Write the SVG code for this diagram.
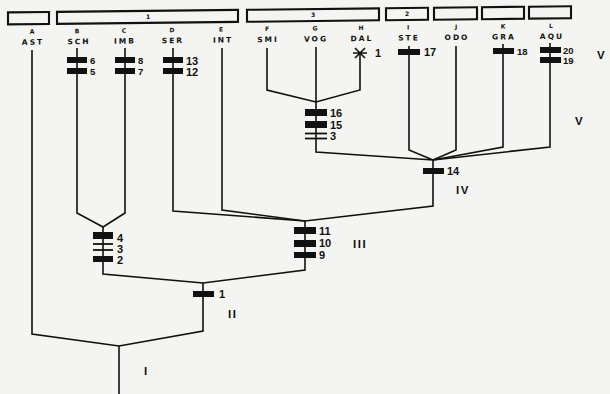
<svg xmlns="http://www.w3.org/2000/svg" width="610" height="394" viewBox="0 0 610 394">
<style>
.bg{fill:#f4f4f2}
.box{fill:none;stroke:#111;stroke-width:2.1}
.ln{fill:none;stroke:#111;stroke-width:1.6;stroke-linejoin:miter}
.bar{fill:#111}
.thin{stroke:#111;stroke-width:1.8}
.let{font-family:"DejaVu Sans","Liberation Sans",sans-serif;font-weight:bold;font-size:6px;fill:#111;text-anchor:middle}
.nm{font-family:"DejaVu Sans","Liberation Sans",sans-serif;font-weight:bold;font-size:7.5px;letter-spacing:2px;fill:#111;text-anchor:middle}
.num{font-family:"Liberation Sans",Arial,sans-serif;font-weight:bold;font-size:11px;fill:#111}
.sm{font-size:9.5px}
.rom{font-family:"Liberation Sans",Arial,sans-serif;font-weight:bold;font-size:11.5px;letter-spacing:1.5px;fill:#111}
.bl{font-family:"DejaVu Sans",sans-serif;font-weight:bold;font-size:6px;fill:#111;text-anchor:middle}
</style>
<rect class="bg" x="0" y="0" width="610" height="394"/>

<g id="header" transform="skewY(-0.63)">
  <g id="group-A"><rect class="box" x="8" y="12.5" width="41" height="12"/></g>
  <g id="group-1"><rect class="box" x="57" y="12.5" width="181" height="12"/><text class="bl" x="148" y="20.5">1</text></g>
  <g id="group-3"><rect class="box" x="247" y="12.5" width="132" height="12"/><text class="bl" x="313" y="20.5">3</text></g>
  <g id="group-2"><rect class="box" x="386" y="12.5" width="42" height="12"/><text class="bl" x="407" y="20.5">2</text></g>
  <g id="group-J"><rect class="box" x="434" y="12.5" width="43" height="12"/></g>
  <g id="group-K"><rect class="box" x="482" y="12.5" width="42" height="12"/></g>
  <g id="group-L"><rect class="box" x="529" y="12.5" width="42" height="12"/></g>

  <g id="taxon-A"><text class="let" x="32" y="34">A</text><text class="nm" x="33" y="45">AST</text></g>
  <g id="taxon-B"><text class="let" x="77" y="34">B</text><text class="nm" x="79" y="45">SCH</text></g>
  <g id="taxon-C"><text class="let" x="124" y="34">C</text><text class="nm" x="125" y="45">IMB</text></g>
  <g id="taxon-D"><text class="let" x="172" y="34">D</text><text class="nm" x="173" y="45">SER</text></g>
  <g id="taxon-E"><text class="let" x="221" y="34">E</text><text class="nm" x="223" y="45">INT</text></g>
  <g id="taxon-F"><text class="let" x="267" y="34">F</text><text class="nm" x="268" y="45">SMI</text></g>
  <g id="taxon-G"><text class="let" x="315" y="34">G</text><text class="nm" x="316" y="45">VOG</text></g>
  <g id="taxon-H"><text class="let" x="361" y="34">H</text><text class="nm" x="362" y="45">DAL</text></g>
  <g id="taxon-I"><text class="let" x="408" y="34">I</text><text class="nm" x="409" y="45">STE</text></g>
  <g id="taxon-J"><text class="let" x="456" y="34">J</text><text class="nm" x="457" y="45">ODO</text></g>
  <g id="taxon-K"><text class="let" x="503" y="34">K</text><text class="nm" x="504" y="45">GRA</text></g>
  <g id="taxon-L"><text class="let" x="551" y="34">L</text><text class="nm" x="552" y="45">AQU</text></g>
</g>

<g id="connectors">
  <polyline class="ln" points="32,50 32,334 119,346 203,331 203,283"/>
  <polyline class="ln" points="119,346 119,394"/>
  <polyline class="ln" points="77,48 77,213 103,227 125,213 125,48"/>
  <polyline class="ln" points="103,227 103,274 203,283 305,270 305,221"/>
  <polyline class="ln" points="173,48 173,211 305,221 433,206 433,160"/>
  <polyline class="ln" points="222,48 222,210 305,221"/>
  <polyline class="ln" points="267,48 267,90 316,102 360,90 360,53"/>
  <polyline class="ln" points="316,47 316,152 433,160 409,150 409,46"/>
  <polyline class="ln" points="433,160 456,150 456,46"/>
  <polyline class="ln" points="433,160 503,147 503,44"/>
  <polyline class="ln" points="433,160 550,147 550,43"/>
</g>

<g id="characters">
  <g id="chars-SCH"><rect class="bar" x="67" y="57" width="20" height="6"/><rect class="bar" x="67" y="68" width="20" height="6"/>
    <text class="num sm" x="90" y="64">6</text><text class="num sm" x="90" y="75">5</text></g>
  <g id="chars-IMB"><rect class="bar" x="115" y="57" width="20" height="6"/><rect class="bar" x="115" y="68" width="20" height="6"/>
    <text class="num sm" x="138" y="64">8</text><text class="num sm" x="138" y="75">7</text></g>
  <g id="chars-SER"><rect class="bar" x="163" y="57" width="20" height="6"/><rect class="bar" x="163" y="68" width="20" height="6"/>
    <text class="num" x="186" y="64.5">13</text><text class="num" x="186" y="75.5">12</text></g>
  <g id="chars-DAL"><path class="ln" d="M353,53 H367 M355,48 L365,58 M355,58 L365,48"/>
    <text class="num" x="375" y="57">1</text></g>
  <g id="chars-STE"><rect class="bar" x="398" y="49" width="22" height="6"/><text class="num" x="424" y="56">17</text></g>
  <g id="chars-GRA"><rect class="bar" x="493" y="48" width="21" height="6"/><text class="num sm" x="517" y="54.5">18</text></g>
  <g id="chars-AQU"><rect class="bar" x="540" y="47" width="21" height="6"/><rect class="bar" x="540" y="57" width="21" height="6"/>
    <text class="num sm" x="563" y="53.5">20</text><text class="num sm" x="563" y="63.5">19</text></g>

  <g id="node-2-4"><rect class="bar" x="93" y="232" width="20" height="7"/>
    <line class="thin" x1="93" y1="244" x2="113" y2="244"/><line class="thin" x1="93" y1="250" x2="113" y2="250"/>
    <rect class="bar" x="93" y="256" width="20" height="6"/>
    <text class="num" x="117" y="241.5">4</text><text class="num" x="117" y="252.5">3</text><text class="num" x="117" y="263.5">2</text></g>
  <g id="node-VOG"><rect class="bar" x="305" y="109" width="22" height="7"/><rect class="bar" x="305" y="121" width="22" height="7"/>
    <line class="thin" x1="305" y1="133.5" x2="327" y2="133.5"/><line class="thin" x1="305" y1="138.5" x2="327" y2="138.5"/>
    <text class="num" x="330" y="117">16</text><text class="num" x="330" y="129">15</text><text class="num" x="330" y="140">3</text></g>
  <g id="node-III"><rect class="bar" x="294" y="227" width="22" height="7"/><rect class="bar" x="294" y="240" width="22" height="7"/><rect class="bar" x="294" y="252" width="22" height="6"/>
    <text class="num" x="319" y="235">11</text><text class="num" x="319" y="247">10</text><text class="num" x="319" y="259">9</text>
    <text class="rom" x="353" y="248">III</text></g>
  <g id="node-II"><rect class="bar" x="193" y="291" width="21" height="6"/><text class="num" x="219" y="298">1</text>
    <text class="rom" x="228" y="318">II</text></g>
  <g id="node-IV"><rect class="bar" x="423" y="168" width="21" height="6"/><text class="num" x="447" y="175">14</text>
    <text class="rom" x="456" y="194">IV</text></g>
  <g id="node-I"><text class="rom" x="144" y="375">I</text></g>
  <g id="node-V"><text class="rom" x="575" y="125">V</text><text class="rom" x="597" y="59">V</text></g>
</g>
</svg>
